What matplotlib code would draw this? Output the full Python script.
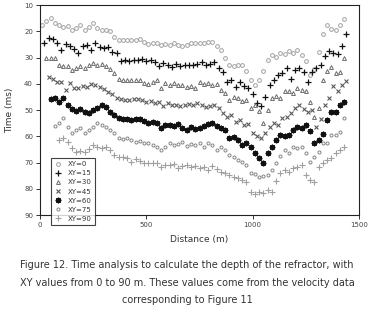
import numpy as np
import matplotlib
matplotlib.use("Agg")
import matplotlib.pyplot as plt

# Picked station spacing along the line (m) and first station of each XY
STEP = 20
LABELS = ["XY=0", "XY=15", "XY=30", "XY=45", "XY=60", "XY=75", "XY=90"]
STARTS = [10, 20, 30, 40, 50, 70, 90]

# Times (ms)
T_XY0 = [17.6, 16.0, 15.0, 16.8, 17.5, 18.2, 18.0, 19.6, 18.6, 17.8, 19.4, 18.5,
         17.0, 18.6, 19.4, 19.7, 20.0, 22.0, 23.3, 23.2, 23.5, 23.3, 23.4, 23.0,
         24.2, 24.7, 24.3, 24.6, 25.2, 24.8, 25.3, 24.6, 25.4, 25.6, 25.1, 24.6,
         24.3, 24.4, 24.6, 24.1, 24.0, 25.8, 27.1, 30.0, 32.8, 33.1, 32.8, 33.0,
         35.0, 38.5, 40.5, 38.5, 35.0, 30.8, 29.0, 29.8, 28.3, 28.8, 27.6, 28.2,
         27.2, 29.0, 31.5, 36.5, 34.3, 28.0, 21.0, 17.8, 19.0, 19.6, 17.6, 15.5]
T_XY15 = [24.4, 22.4, 23.1, 24.6, 27.0, 24.8, 25.5, 26.6, 28.2, 25.6, 25.2, 27.0,
          24.6, 25.9, 26.4, 26.0, 27.8, 28.2, 31.5, 31.0, 31.2, 30.8, 31.0, 30.6,
          31.2, 31.0, 31.6, 33.3, 32.0, 32.9, 33.8, 32.5, 33.3, 33.0, 32.7, 32.8,
          32.3, 31.6, 32.9, 32.4, 31.8, 34.1, 35.4, 39.2, 38.6, 41.4, 39.2, 40.9,
          41.7, 43.9, 47.5, 48.5, 45.0, 40.5, 38.6, 36.5, 35.9, 34.1, 38.1, 34.6,
          34.0, 35.4, 39.3, 35.6, 34.1, 33.0, 29.3, 27.6, 28.4, 28.5, 25.5, 21.0]
T_XY30 = [30.0, 30.0, 30.0, 33.0, 33.1, 33.2, 34.8, 34.0, 33.3, 34.1, 33.0, 32.2,
          33.0, 32.5, 33.2, 34.5, 35.8, 38.0, 38.6, 38.5, 38.6, 38.4, 38.7, 39.8,
          40.0, 39.5, 38.6, 41.7, 39.8, 40.5, 39.6, 40.5, 40.3, 41.2, 41.0, 41.5,
          39.2, 40.0, 39.8, 40.5, 40.0, 42.4, 43.5, 46.2, 45.0, 45.5, 46.5, 46.2,
          49.4, 48.0, 50.5, 55.0, 50.0, 45.5, 44.5, 45.4, 42.9, 42.6, 43.5, 41.6,
          42.5, 42.9, 47.0, 52.6, 49.4, 38.5, 35.3, 33.5, 35.9, 35.5, 30.2]
T_XY45 = [37.5, 38.0, 39.5, 39.2, 42.4, 39.8, 41.5, 41.7, 40.8, 41.3, 40.2, 40.5,
          41.4, 42.1, 43.0, 43.8, 45.5, 45.9, 46.0, 46.2, 45.9, 45.8, 46.0, 46.8,
          46.5, 47.2, 46.8, 48.5, 47.5, 48.0, 48.1, 48.5, 48.1, 47.8, 48.2, 47.5,
          48.1, 48.8, 48.4, 48.0, 49.4, 51.3, 52.6, 52.0, 54.4, 53.8, 55.7, 55.5,
          58.9, 60.0, 60.8, 58.9, 56.4, 55.0, 55.7, 53.0, 52.5, 51.3, 49.4, 48.1,
          49.5, 50.6, 50.0, 56.5, 53.5, 48.0, 45.5, 41.0, 42.9, 40.4, 39.1]
T_XY60 = [45.8, 45.3, 47.0, 45.5, 48.1, 49.5, 50.2, 49.8, 50.6, 51.3, 50.0, 49.4,
          48.1, 49.0, 50.6, 51.8, 53.2, 53.6, 53.3, 53.8, 53.4, 53.6, 54.0, 55.1,
          54.6, 55.1, 57.0, 55.8, 55.7, 56.2, 55.4, 57.0, 57.6, 56.4, 57.2, 56.8,
          56.0, 55.4, 55.1, 56.0, 57.0, 57.6, 60.8, 60.2, 61.4, 63.3, 62.5, 64.0,
          66.5, 68.4, 70.3, 66.5, 64.0, 61.4, 59.5, 59.8, 59.5, 57.6, 56.4, 57.0,
          55.7, 58.0, 62.7, 61.4, 59.0, 53.8, 50.6, 50.8, 48.1, 46.8]
T_XY75 = [56.0, 55.1, 53.2, 56.4, 58.9, 57.5, 57.0, 58.9, 57.6, 56.4, 55.1, 55.7,
          56.4, 57.6, 58.9, 60.5, 61.0, 60.8, 61.5, 62.0, 61.8, 62.7, 62.4, 63.3,
          64.2, 65.2, 64.0, 62.7, 63.5, 63.0, 62.0, 63.6, 62.8, 63.3, 62.5, 64.0,
          62.7, 63.2, 65.2, 64.0, 65.2, 67.1, 67.8, 69.0, 69.7, 71.0, 74.1, 74.5,
          75.4, 75.0, 74.8, 73.0, 70.3, 67.5, 65.2, 66.5, 64.0, 64.5, 64.0, 66.5,
          69.7, 67.8, 66.0, 62.5, 62.7, 59.5, 59.5, 58.3, 53.2]
T_XY90 = [61.5, 60.8, 62.1, 64.6, 65.9, 65.5, 65.9, 64.8, 63.3, 64.0, 64.3, 64.0,
          65.2, 67.1, 67.8, 68.0, 68.4, 69.7, 68.8, 69.5, 70.3, 70.0, 70.1, 70.3,
          71.6, 70.8, 71.0, 70.6, 72.2, 71.2, 71.0, 71.7, 71.5, 72.2, 71.8, 72.9,
          71.5, 72.3, 73.5, 74.1, 74.8, 75.5, 76.0, 76.6, 77.3, 81.1, 82.0, 81.1,
          81.5, 80.5, 81.1, 77.0, 74.1, 72.9, 73.5, 72.2, 71.6, 71.0, 74.8, 76.7,
          77.3, 71.6, 70.3, 69.0, 68.4, 66.5, 65.2, 64.0]
SERIES = [T_XY0, T_XY15, T_XY30, T_XY45, T_XY60, T_XY75, T_XY90]

STYLES = [
    dict(marker="o", ms=2.7, mfc="none", mec="#a0a0a0", mew=0.7),
    dict(marker="+", ms=4.0, mec="#111111", mew=0.9),
    dict(marker="^", ms=2.8, mfc="none", mec="#6a6a6a", mew=0.7),
    dict(marker="x", ms=2.6, mec="#5a5a5a", mew=0.8),
    dict(marker=(8, 2, 0), ms=4.0, mec="#111111", mew=1.0),
    dict(marker="o", ms=2.2, mfc="none", mec="#858585", mew=0.7),
    dict(marker="+", ms=4.0, mec="#a0a0a0", mew=0.8),
]

W, H = 374, 310
fig = plt.figure(figsize=(W / 100, H / 100), dpi=100)
ax = fig.add_axes([40 / W, 1 - 215 / H, 319 / W, 210 / H])

for lab, start, ys, st in zip(LABELS, STARTS, SERIES, STYLES):
    xs = start + STEP * np.arange(len(ys))
    ax.plot(xs, ys, ls="none", label=lab, **st)

ax.set_xlim(0, 1500)
ax.set_ylim(90, 10)
ax.set_xticks([0, 500, 1000, 1500])
ax.set_yticks(range(10, 91, 10))
ax.tick_params(labelsize=5, length=3, width=0.7, colors="#333333",
               labelcolor="#444444", pad=2)
for s in ax.spines.values():
    s.set_linewidth(0.8)
    s.set_color("#222222")
ax.set_xlabel("Distance (m)", fontsize=6.5, color="#333333", labelpad=5)
ax.set_ylabel("Time (ms)", fontsize=6.5, color="#333333", labelpad=7)

leg = ax.legend(loc="upper left", bbox_to_anchor=(51 / W, 1 - 158 / H),
                bbox_transform=fig.transFigure, fontsize=5, frameon=True,
                fancybox=False, edgecolor="#111111", borderpad=0.45,
                labelspacing=0.45, handlelength=1.0, handletextpad=1.0,
                borderaxespad=0)
leg.get_frame().set_linewidth(0.8)
leg.set_zorder(5)
for t in leg.get_texts():
    t.set_color("#333333")

caption = ("Figure 12. Time analysis to calculate the depth of the refractor, with\n"
           "XY values from 0 to 90 m. These values come from the velocity data\n"
           "corresponding to Figure 11")
fig.text(0.5, 1 - 260 / H, caption, ha="center", va="top", fontsize=7.0,
         color="#333333", linespacing=1.95)

fig.savefig("out.png", dpi=100)
